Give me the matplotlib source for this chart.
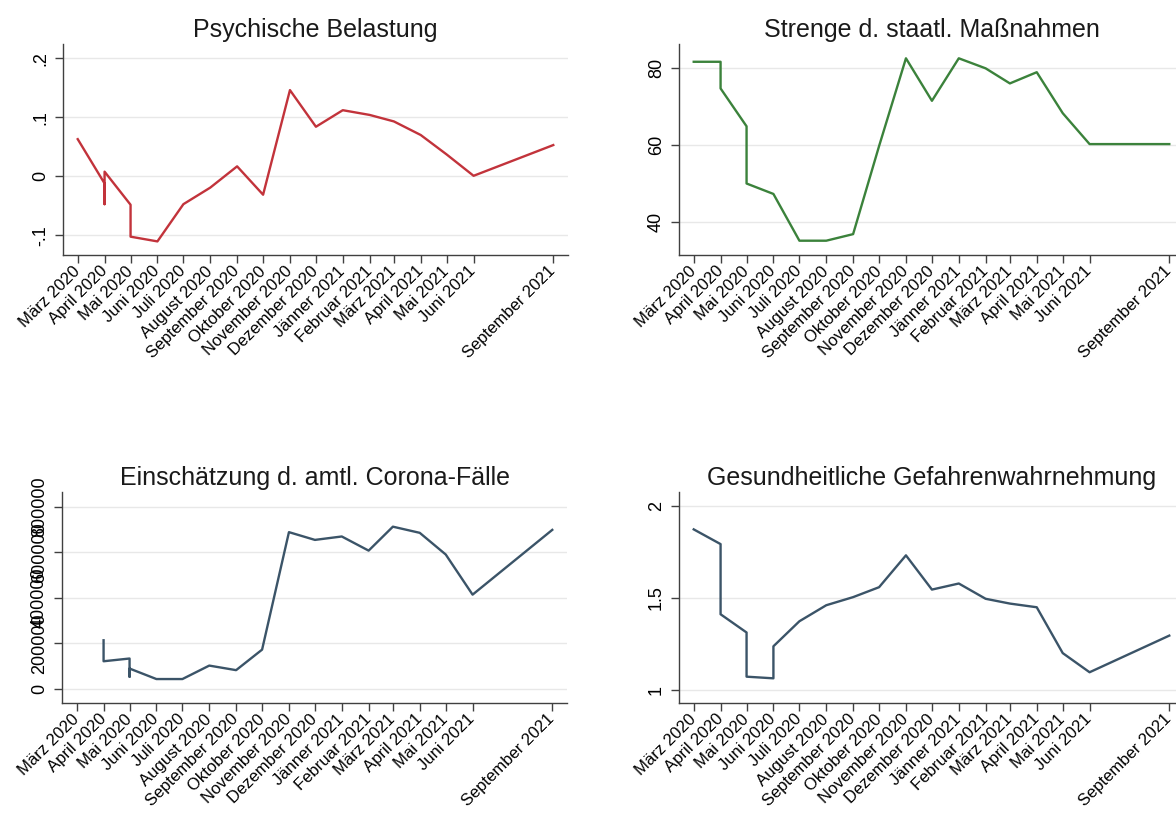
import matplotlib
matplotlib.use("Agg")
import matplotlib.pyplot as plt
import pandas as pd

plt.rcParams['font.family'] = ['Liberation Sans', 'DejaVu Sans']

## ## tick months (x axis)
tick_months = ['2020-03', '2020-04', '2020-05', '2020-06', '2020-07', '2020-08',
               '2020-09', '2020-10', '2020-11', '2020-12', '2021-01', '2021-02',
               '2021-03', '2021-04', '2021-05', '2021-06', '2021-09']
tick_labels = ['März 2020', 'April 2020', 'Mai 2020', 'Juni 2020', 'Juli 2020',
               'August 2020', 'September 2020', 'Oktober 2020', 'November 2020',
               'Dezember 2020', 'Jänner 2021', 'Februar 2021', 'März 2021',
               'April 2021', 'Mai 2021', 'Juni 2021', 'September 2021']

## ## Psychische Belastung
bel_x = ['2020-03', '2020-04', '2020-04', '2020-04', '2020-05', '2020-05', '2020-06',
         '2020-07', '2020-08', '2020-09', '2020-10', '2020-11', '2020-12', '2021-01',
         '2021-02', '2021-03', '2021-04', '2021-05', '2021-06', '2021-09']
bel_y = [0.063, -0.012, -0.047, 0.008, -0.048, -0.102, -0.110, -0.047, -0.019, 0.017,
         -0.031, 0.146, 0.084, 0.112, 0.104, 0.093, 0.070, 0.037, 0.001, 0.053]

## ## Strenge d. staatl. Massnahmen
str_x = ['2020-03', '2020-04', '2020-04', '2020-05', '2020-05', '2020-06', '2020-07',
         '2020-08', '2020-09', '2020-10', '2020-11', '2020-12', '2021-01', '2021-02',
         '2021-03', '2021-04', '2021-05', '2021-06', '2021-09']
str_y = [81.5, 81.5, 74.6, 64.8, 50.0, 47.3, 35.2, 35.2, 36.9, 59.7, 82.4, 71.4,
         82.4, 79.8, 75.9, 78.8, 68.2, 60.2, 60.2]

## ## Einschaetzung d. amtl. Corona-Faelle
fal_x = ['2020-04', '2020-04', '2020-05', '2020-05', '2020-05', '2020-06', '2020-07',
         '2020-08', '2020-09', '2020-10', '2020-11', '2020-12', '2021-01', '2021-02',
         '2021-03', '2021-04', '2021-05', '2021-06', '2021-09']
fal_y = [214000, 122000, 134000, 54000, 90000, 44000, 44000, 103000, 83000, 173000,
         688000, 654000, 669000, 607000, 712000, 685000, 590000, 414000, 698000]

## ## Gesundheitliche Gefahrenwahrnehmung
gef_x = ['2020-03', '2020-04', '2020-04', '2020-05', '2020-05', '2020-06', '2020-06',
         '2020-07', '2020-08', '2020-09', '2020-10', '2020-11', '2020-12', '2021-01',
         '2021-02', '2021-03', '2021-04', '2021-05', '2021-06', '2021-09']
gef_y = [1.872, 1.792, 1.411, 1.312, 1.072, 1.063, 1.237, 1.373, 1.460, 1.504, 1.558,
         1.731, 1.545, 1.578, 1.495, 1.469, 1.449, 1.200, 1.096, 1.295]

panels = [
    # title, x, y, color, yticks, ytick labels, ylim, position
    ("Psychische Belastung", bel_x, bel_y, '#c2333b',
     [-0.1, 0, 0.1, 0.2], ['-.1', '0', '.1', '.2'], (-0.133, 0.224),
     [63/1176, 1-255/821, 505/1176, 211/821]),
    ("Strenge d. staatl. Maßnahmen", str_x, str_y, '#3b823b',
     [40, 60, 80], ['40', '60', '80'], (31.5, 86.1),
     [679/1176, 1-255/821, 505/1176, 211/821]),
    ("Einschätzung d. amtl. Corona-Fälle", fal_x, fal_y, '#3b5468',
     [0, 200000, 400000, 600000, 800000], ['0', '200000', '400000', '600000', '800000'],
     (-61000, 864000), [62/1176, 1-703/821, 505/1176, 211/821]),
    ("Gesundheitliche Gefahrenwahrnehmung", gef_x, gef_y, '#3b5468',
     [1, 1.5, 2], ['1', '1.5', '2'], (0.929, 2.075),
     [679/1176, 1-703/821, 505/1176, 211/821]),
]

tick_dates = pd.to_datetime(tick_months)
x_lo = pd.Timestamp('2020-03-01') - pd.Timedelta(days=17)
x_hi = pd.Timestamp('2021-09-01') + pd.Timedelta(days=17)

fig = plt.figure(figsize=(11.76, 8.21), dpi=100)

for title, xs, ys, col, yt, ytl, ylim, pos in panels:
    ax = fig.add_axes(pos)
    ax.plot(pd.to_datetime(xs), ys, color=col, lw=1.7, zorder=3)
    ax.set_xlim(x_lo, x_hi)
    ax.set_ylim(*ylim)
    ax.set_yticks(yt)
    ax.set_yticklabels(ytl, rotation=90, va='center', fontsize=13)
    ax.set_xticks(tick_dates)
    ax.set_xticklabels(tick_labels, rotation=45, ha='right', va='center',
                       rotation_mode='anchor', fontsize=12)
    ax.grid(axis='y', color='#e8e8e8', lw=1)
    ax.set_axisbelow(True)
    for s in ['top', 'right']:
        ax.spines[s].set_visible(False)
    for s in ['left', 'bottom']:
        ax.spines[s].set_color('#404040')
        ax.spines[s].set_linewidth(1.0)
    ax.tick_params(axis='both', length=6, width=1, color='#404040', pad=4)
    ax.set_title(title, fontsize=18, pad=5, color='#1a1a1a')

fig.savefig("out.png", dpi=100)
